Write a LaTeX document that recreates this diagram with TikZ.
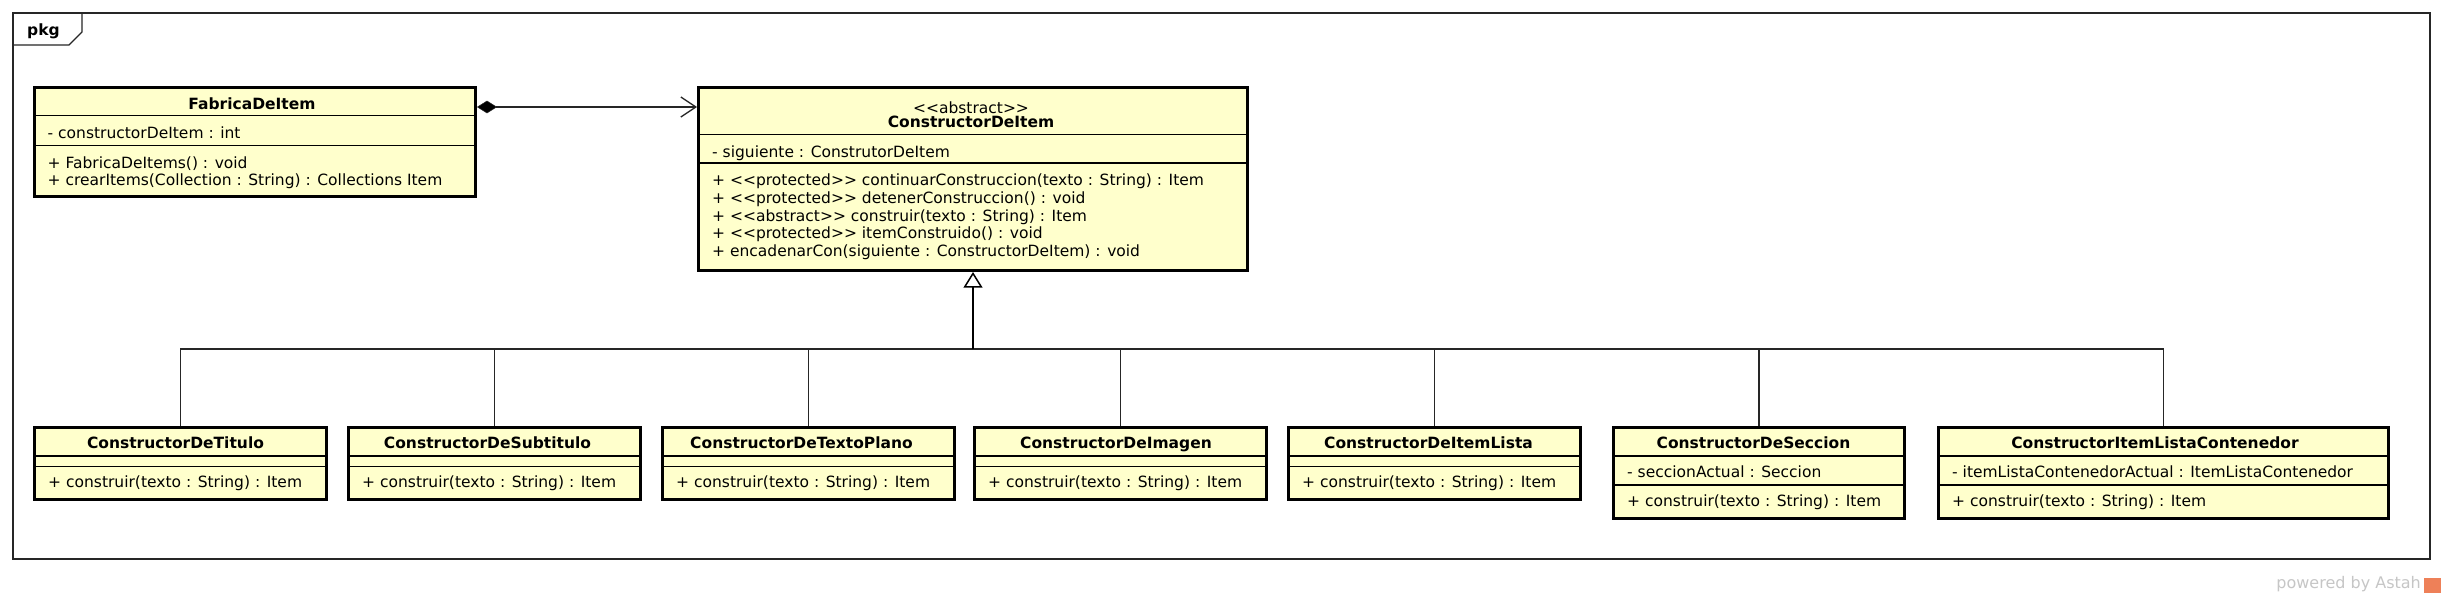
\documentclass[tikz,border=0pt]{standalone}
\usepackage{fontspec}
\newfontfamily\umlfont{DejaVu Sans}
\usetikzlibrary{arrows.meta}
\definecolor{clsfill}{RGB}{255,255,204}
\definecolor{wmgray}{RGB}{198,198,198}
\definecolor{astahorange}{RGB}{238,128,88}
\tikzset{
  clsbox/.style={rectangle, draw=black, line width=3pt, fill=clsfill, inner sep=0pt, outer sep=1.5pt},
  sepline/.style={draw=black, line width=1.2pt},
  txt/.style={font=\umlfont\fontsize{15.5}{18.6}\selectfont, inner sep=0pt, anchor=base west},
  ttl/.style={font=\umlfont\bfseries\fontsize{15.5}{18.6}\selectfont, inner sep=0pt, anchor=base},
  stereo/.style={font=\umlfont\fontsize{15.5}{18.6}\selectfont, inner sep=0pt, anchor=base},
  compo/.style={line width=1.3pt, draw=black!85, {Diamond[length=20pt,width=12.6pt,fill=black,line width=0.5pt]}-{Straight Barb[length=15pt,width=20pt,line width=1.3pt]}},
  genmain/.style={line width=2.2pt, draw=black, -{Triangle[open,length=15.7pt,width=19pt,fill=white,line width=1.5pt]}},
  genthin/.style={line width=1.2pt, draw=black!85},
  frameline/.style={line width=1.2pt, draw=black!85},
  wm/.style={font=\umlfont\fontsize{16}{16}\selectfont, text=wmgray, inner sep=0pt, anchor=base east},
}
\newcommand\clsnode[5]{%
  \pgfmathsetmacro\clsW{#4-#2-3}\pgfmathsetmacro\clsH{#5-#3-3}%
  \pgfmathsetmacro\clsX{(#2+#4)/2}\pgfmathsetmacro\clsY{(#3+#5)/2}%
  \node[clsbox, minimum width=\clsW pt, minimum height=\clsH pt] (#1) at (\clsX,\clsY) {};}
\newcommand\clssep[2]{\draw[sepline] ([xshift=1.5pt]#1.west |- 0,#2) -- ([xshift=-1.5pt]#1.east |- 0,#2);}
\begin{document}
\begin{tikzpicture}[x=1pt,y=-1pt]
\useasboundingbox[fill=white] (0,0) rectangle (2442,598);
% package frame
\draw[frameline] (13,13) rectangle (2430,559);
\draw[frameline] (13,45) -- (69,45) -- (82,32) -- (82,13);
\node[ttl, anchor=base west] (pkglabel) at (27,35) {pkg};

% FabricaDeItem
\clsnode{fab}{33}{86}{477}{198}
\clssep{fab}{115.5}\clssep{fab}{145.5}
\node[ttl] (fabT) at (252,109) {FabricaDeItem};
\node[txt] (fabA) at (47.5,138) {- constructorDeItem : int};
\node[txt] (fabM1) at (47.5,168) {+ FabricaDeItems() : void};
\node[txt] (fabM2) at (47.5,185) {+ crearItems(Collection : String) : Collections Item};

% ConstructorDeItem
\clsnode{abs}{697}{86}{1249}{272}
\clssep{abs}{134.5}\clssep{abs}{163}
\node[stereo] (absS) at (971,113.5) {<<abstract>>};
\node[ttl] (absT) at (971,127.5) {ConstructorDeItem};
\node[txt] (absA) at (712,157.5) {- siguiente : ConstrutorDeItem};
\node[txt] (absM1) at (712,185.5) {+ <<protected>> continuarConstruccion(texto : String) : Item};
\node[txt] (absM2) at (712,203.3) {+ <<protected>> detenerConstruccion() : void};
\node[txt] (absM3) at (712,221) {+ <<abstract>> construir(texto : String) : Item};
\node[txt] (absM4) at (712,238.8) {+ <<protected>> itemConstruido() : void};
\node[txt] (absM5) at (712,256.6) {+ encadenarCon(siguiente : ConstructorDeItem) : void};

% bottom row, no attributes
\clsnode{tit}{33}{426}{328}{501}
\clsnode{sub}{347}{426}{642}{501}
\clsnode{txp}{661}{426}{956}{501}
\clsnode{img}{973}{426}{1268}{501}
\clsnode{itl}{1287}{426}{1582}{501}
\foreach \n in {tit,sub,txp,img,itl} {\clssep{\n}{456}\clssep{\n}{466.5}}
\node[ttl] (titT) at (175.5,448) {ConstructorDeTitulo};
\node[ttl] (subT) at (487.5,448) {ConstructorDeSubtitulo};
\node[ttl] (txpT) at (801.5,448) {ConstructorDeTextoPlano};
\node[ttl] (imgT) at (1116,448) {ConstructorDeImagen};
\node[ttl] (itlT) at (1428.5,448) {ConstructorDeItemLista};
\node[txt] (titM) at (48,487) {+ construir(texto : String) : Item};
\node[txt] (subM) at (362,487) {+ construir(texto : String) : Item};
\node[txt] (txpM) at (676,487) {+ construir(texto : String) : Item};
\node[txt] (imgM) at (988,487) {+ construir(texto : String) : Item};
\node[txt] (itlM) at (1302,487) {+ construir(texto : String) : Item};

% bottom row, with attributes
\clsnode{sec}{1612}{426}{1906}{520}
\clsnode{con}{1937}{426}{2390}{520}
\foreach \n in {sec,con} {\clssep{\n}{456}\clssep{\n}{485}}
\node[ttl] (secT) at (1753.5,448) {ConstructorDeSeccion};
\node[ttl] (conT) at (2155,448) {ConstructorItemListaContenedor};
\node[txt] (secA) at (1627,477.5) {- seccionActual : Seccion};
\node[txt] (secM) at (1627,506.5) {+ construir(texto : String) : Item};
\node[txt] (conA) at (1952,477.5) {- itemListaContenedorActual : ItemListaContenedor};
\node[txt] (conM) at (1952,506.5) {+ construir(texto : String) : Item};

% composition
\coordinate (compY) at (0,107);
\draw[compo] (fab.east |- compY) -- (abs.west |- compY);

% generalization tree
\coordinate (bus) at (0,349);
\draw[genthin] (tit.north) -- (tit.north |- bus) -- (con.north |- bus) -- (con.north);
\foreach \n in {sub,txp,img,itl,sec} {\draw[genthin] (\n.north) -- (\n.north |- bus);}
\draw[genmain] (abs.south |- bus) -- (abs.south);

% watermark
\node[wm] (wmtext) at (2421,588) {powered by Astah};
\fill[astahorange] (2424,578) rectangle (2441,593);
\end{tikzpicture}
\end{document}
